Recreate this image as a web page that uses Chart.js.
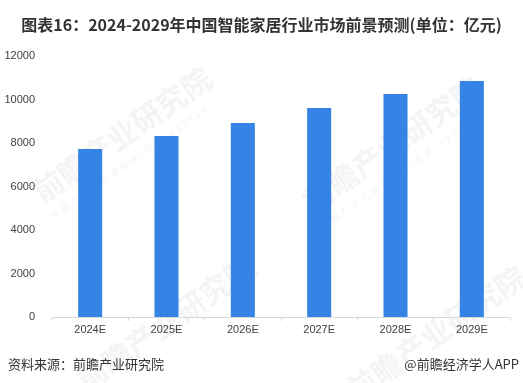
<!DOCTYPE html>
<html>
<head>
<meta charset="utf-8">
<script src="https://cdn.jsdelivr.net/npm/chart.js@4"></script>
<style>
  body { margin: 0; background: #fff; }
  #wrap { position: relative; width: 523px; height: 383px; overflow: hidden; font-family: "Noto Sans CJK SC", "Liberation Sans", sans-serif; }
  #title { position: absolute; left: 0; top: 12px; width: 523px; text-align: center; font-size: 16px; font-weight: bold; color: #333; white-space: nowrap; }
  .foot { position: absolute; top: 354px; font-size: 13px; color: #333; white-space: nowrap; }
  .wm { position: absolute; color: rgba(200, 206, 218, 0.22); font-size: 30px; font-weight: bold; transform: rotate(-35deg); white-space: nowrap; }
  .wm small { display: block; font-size: 9px; font-weight: normal; letter-spacing: 3px; }
  canvas { position: absolute; left: 0; top: 0; }
</style>
</head>
<body>
<div id="wrap">
  <div class="wm" style="left:20px; top:110px;">前瞻产业研究院<small>中国产业咨询领导者(股票:833599)</small></div>
  <div class="wm" style="left:290px; top:120px;">前瞻产业研究院<small>中国产业咨询领导者(股票:833599)</small></div>
  <div class="wm" style="left:60px; top:300px;">前瞻产业研究院</div>
  <div class="wm" style="left:330px; top:310px;">前瞻产业研究院</div>
  <canvas id="chart" width="523" height="383"></canvas>
  <div id="title">图表16：2024-2029年中国智能家居行业市场前景预测(单位：亿元)</div>
  <div class="foot" style="left:8px;">资料来源：前瞻产业研究院</div>
  <div class="foot" style="right:4px;">@前瞻经济学人APP</div>
</div>
<script>
const years = ["2024E", "2025E", "2026E", "2027E", "2028E", "2029E"];
const marketSize = [7720, 8320, 8920, 9610, 10250, 10850];
const yTicks = [0, 2000, 4000, 6000, 8000, 10000, 12000];

new Chart(document.getElementById("chart"), {
  type: "bar",
  data: {
    labels: years,
    datasets: [
      {
        data: marketSize,
        backgroundColor: "#3583e5",
        barPercentage: 0.63,
        categoryPercentage: 0.5,
      },
    ],
  },
  options: {
    responsive: false,
    animation: false,
    layout: { padding: { top: 56, right: 13, bottom: 36, left: 0 } },
    plugins: {
      legend: { display: false },
      tooltip: { enabled: false },
    },
    scales: {
      x: {
        afterFit: (s) => { s.height = 30; },
        grid: { drawOnChartArea: false, tickLength: 4, color: "#d9d9d9", offset: true },
        border: { color: "#d9d9d9" },
        ticks: { color: "#404040", font: { size: 11, family: "Liberation Sans" }, padding: 2 },
      },
      y: {
        min: 0,
        max: 12000,
        afterFit: (s) => { s.width = 52; },
        afterBuildTicks: (s) => { s.ticks = yTicks.map((v) => ({ value: v })); },
        grid: { display: false },
        border: { display: false },
        ticks: {
          color: "#404040",
          font: { size: 11, family: "Liberation Sans" },
          padding: 9,
          callback: (v) => String(v),
        },
      },
    },
  },
});
</script>
</body>
</html>
